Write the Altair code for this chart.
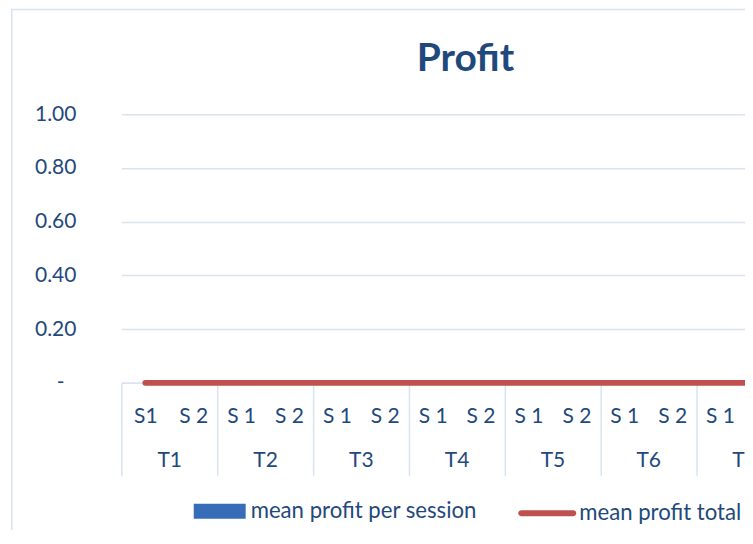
import json
import altair as alt
import pandas as pd

# ---- data ----
treatments = ["T1", "T2", "T3", "T4", "T5", "T6", "T7", "T8"]
sessions = ["S1", "S 2", "S 1", "S 2", "S 1", "S 2", "S 1", "S 2",
            "S 1", "S 2", "S 1", "S 2", "S 1", "S 2", "S 1", "S 2"]
mean_profit_per_session = [0, 0, 0, 0, 0, 0, 0, 0, 0, 0, 0, 0, 0, 0, 0, 0]
mean_profit_total = [0, 0, 0, 0, 0, 0, 0, 0, 0, 0, 0, 0, 0, 0, 0, 0]
y_ticks = [0.0, 0.2, 0.4, 0.6, 0.8, 1.0]
SER1 = "mean profit per session"
SER2 = "mean profit total"

n = len(sessions)
df = pd.DataFrame({
    "slot": [i + 0.5 for i in range(n)],
    "session": sessions,
    "treatment": [treatments[i // 2] for i in range(n)],
    "per_session": mean_profit_per_session,
    "total": mean_profit_total,
    "s1": [SER1] * n,
    "s2": [SER2] * n,
})

FONT = "Lato"
TXT = "#1F497D"
GRID = "#D9E3F2"
RED = "#C0504D"
BLUE = "#376CB8"
SLOT = 47.96

xscale = alt.Scale(domain=[0, n], range=[0, SLOT * n], nice=False, zero=False, padding=0)
yscale = alt.Scale(domain=[0, 1], nice=False, zero=True, padding=0)

s_axis = alt.Axis(
    orient="bottom", values=[i + 0.5 for i in range(n)],
    labelExpr=json.dumps(sessions) + "[floor(datum.value)]",
    ticks=False, grid=False, domain=True, domainColor=GRID, domainWidth=1.5,
    labelFont=FONT, labelFontSize=21, labelColor=TXT, labelPadding=22.5,
    labelOverlap=False, labelBound=False, labelFlush=False, title=None)

t_axis = alt.Axis(
    orient="bottom", values=[2 * i for i in range(len(treatments))],
    labelExpr=json.dumps(treatments) + "[round(datum.value / 2)]",
    ticks=True, tickSize=93, tickColor=GRID, tickWidth=1.5,
    domain=False, grid=False, labelOffset=SLOT, labelPadding=-26.5,
    labelFont=FONT, labelFontSize=21, labelColor=TXT,
    labelOverlap=False, labelBound=False, labelFlush=False, title=None)

y_axis = alt.Axis(
    values=y_ticks,
    labelExpr="datum.value == 0 ? '-' : format(datum.value, '.2f')",
    ticks=False, domain=False, grid=True, gridColor=GRID, gridWidth=1.5,
    labelPadding={"condition": {"test": "datum.value == 0", "value": 57.5}, "value": 45.5},
    labelFont=FONT, labelFontSize=21, labelColor=TXT,
    title=None)

legend1 = alt.Legend(
    title=None, orient="none", legendX=72.5, legendY=371.5, padding=0,
    symbolType="M-1,-0.288H1V0.288H-1Z", symbolSize=2704, symbolStrokeWidth=0,
    labelFont=FONT, labelFontSize=22.2, labelColor=TXT, labelOffset=5,
    labelLimit=500)

CAPSULE = ("M-0.897,-0.103H0.897A0.103,0.103 0 0 1 0.897,0.103"
           "H-0.897A0.103,0.103 0 0 1 -0.897,-0.103Z")
legend2 = alt.Legend(
    title=None, orient="none", legendX=397.5, legendY=370.5, padding=0,
    symbolType=CAPSULE, symbolSize=3364, symbolStrokeWidth=0,
    symbolFillColor=RED,
    labelFont=FONT, labelFontSize=22.2, labelColor=TXT, labelOffset=3,
    labelLimit=500)

bars = alt.Chart(df).mark_bar(size=30).encode(
    x=alt.X("slot:Q", scale=xscale, axis=s_axis),
    y=alt.Y("per_session:Q", scale=yscale, axis=y_axis),
    color=alt.Color("s1:N", scale=alt.Scale(domain=[SER1], range=[BLUE]), legend=legend1),
)

line = alt.Chart(df).mark_line(strokeWidth=5.7, strokeCap="round").encode(
    x=alt.X("slot:Q", scale=xscale, axis=t_axis),
    y=alt.Y("total:Q", scale=yscale, axis=y_axis),
    stroke=alt.Stroke("s2:N", scale=alt.Scale(domain=[SER2], range=[RED]), legend=legend2),
)

frame_df = pd.DataFrame({"k": [0]})
left_border = alt.Chart(frame_df).mark_rule(color=GRID, strokeWidth=1.6).encode(
    x=alt.value(-109.75), y=alt.value(-105.6), y2=alt.value(420))
top_border = alt.Chart(frame_df).mark_rule(color=GRID, strokeWidth=1.6).encode(
    x=alt.value(-110.5), x2=alt.value(640), y=alt.value(-104.8))

chart = alt.layer(left_border, top_border, bars, line).resolve_axis(
    x="independent"
).resolve_scale(color="independent", stroke="independent").properties(
    width=624.5, height=269,
    autosize=alt.AutoSizeParams(type="none"),
    padding={"left": 113.5, "top": 106, "right": 0, "bottom": 147},
    background="white",
    title=alt.TitleParams("Profit", font=FONT, fontSize=39, fontWeight="bold",
                          color=TXT, anchor="middle", frame="group",
                          offset=-71, dx=32.25),
).configure_view(strokeWidth=0)

chart.save("out.html", embed_options={"renderer": "svg", "actions": False})
